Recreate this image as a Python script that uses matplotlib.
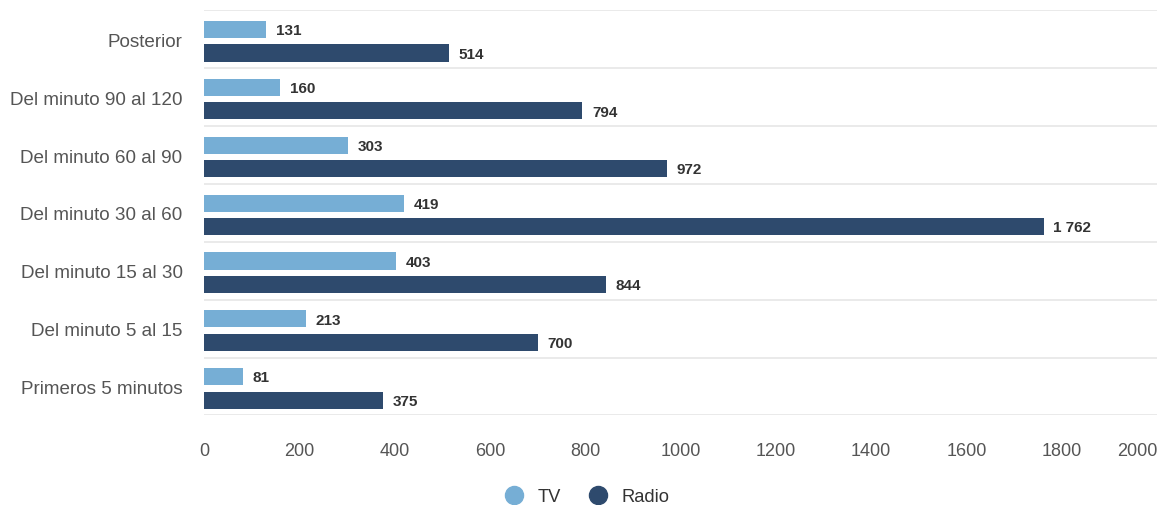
import numpy as np
import matplotlib.pyplot as plt
from matplotlib.lines import Line2D

plt.rcParams['font.family'] = ['Liberation Sans', 'DejaVu Sans']

categories = ["Posterior", "Del minuto 90 al 120", "Del minuto 60 al 90",
              "Del minuto 30 al 60", "Del minuto 15 al 30", "Del minuto 5 al 15",
              "Primeros 5 minutos"]
tv = [131, 160, 303, 419, 403, 213, 81]
radio = [514, 794, 972, 1762, 844, 700, 375]
xticks = [0, 200, 400, 600, 800, 1000, 1200, 1400, 1600, 1800, 2000]

tv_color = '#76aed5'
radio_color = '#2e4a6d'

fig = plt.figure(figsize=(11.62, 5.06), dpi=100)
ax = fig.add_axes([0.1756, 0.1769, 0.8201, 0.8004])

# first category on top
y = np.arange(len(categories))[::-1]
h = 0.295
tv_off, radio_off = 0.17, -0.235
ax.barh(y + tv_off, tv, height=h, color=tv_color, label='TV')
ax.barh(y + radio_off, radio, height=h, color=radio_color, label='Radio')


def fmt(v):
    return f"{v:,}".replace(",", " ")


for yi, v in zip(y, tv):
    ax.annotate(fmt(v), (v, yi + tv_off), xytext=(7, -0.5), textcoords='offset points',
                va='center', ha='left', fontsize=11, fontweight='bold', color='#333333')
for yi, v in zip(y, radio):
    ax.annotate(fmt(v), (v, yi + radio_off), xytext=(7, -0.5), textcoords='offset points',
                va='center', ha='left', fontsize=11, fontweight='bold', color='#333333')

ax.set_xlim(0, 2000)
ax.set_ylim(-0.5, len(categories) - 0.5)
ax.set_yticks(y)
ax.set_yticklabels(categories, fontsize=13.6, color='#555555')
ax.set_yticks(np.arange(-0.5, len(categories), 1.0), minor=True)
ax.grid(which='minor', axis='y', color='#e6e6e6', linewidth=1.2)
ax.set_xticks(xticks)
ax.set_xticklabels([str(t) for t in xticks], fontsize=13, color='#555555')
labels = ax.get_xticklabels()
labels[-1].set_horizontalalignment('right')
labels[-1].set_x(2000)
ax.tick_params(axis='both', which='both', length=0)
ax.tick_params(axis='x', pad=19)
ax.tick_params(axis='y', pad=15.5)
for s in ax.spines.values():
    s.set_visible(False)

handles = [Line2D([], [], marker='o', linestyle='', markersize=13, color=tv_color),
           Line2D([], [], marker='o', linestyle='', markersize=13, color=radio_color)]
fig.legend(handles, ['TV', 'Radio'], loc='center', bbox_to_anchor=(0.5015, 0.0165),
           ncol=2, frameon=False, fontsize=13.2, handletextpad=0.3, columnspacing=1.0,
           borderpad=0, borderaxespad=0, labelcolor='#333333')

fig.savefig('out.png', dpi=100)
